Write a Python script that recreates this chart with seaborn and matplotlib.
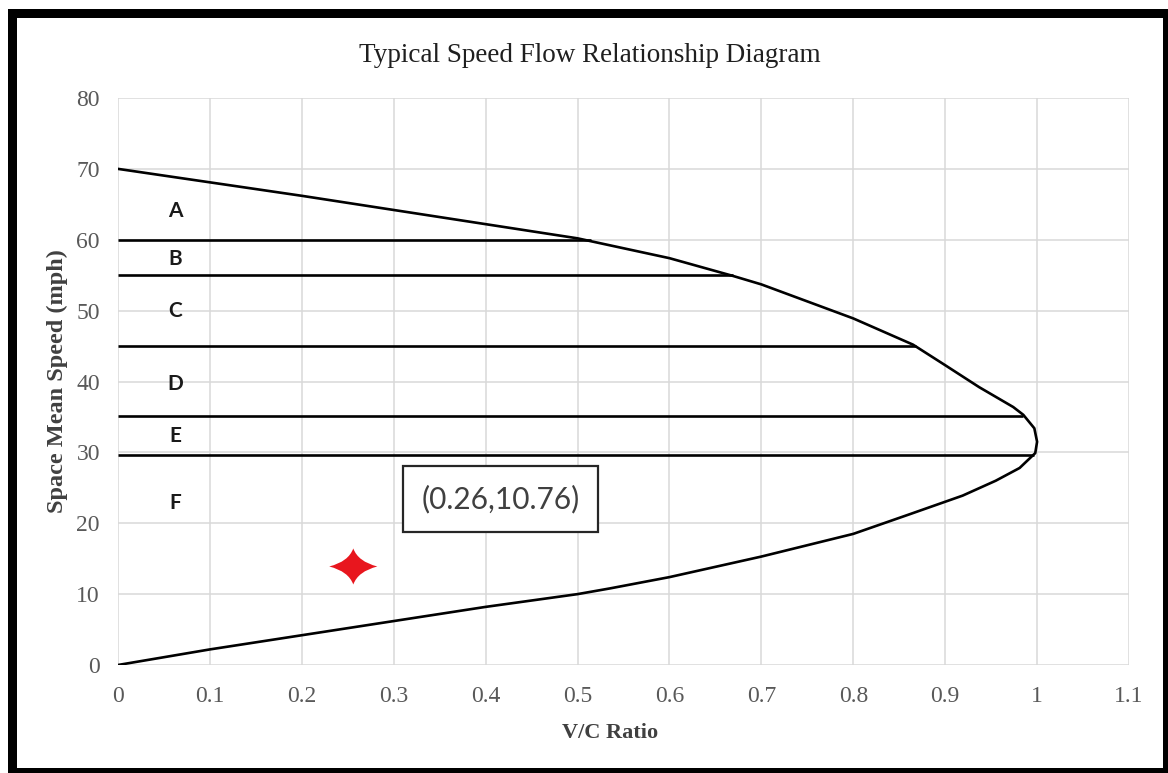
import matplotlib
matplotlib.use("Agg")
import matplotlib.pyplot as plt
from matplotlib.path import Path
from matplotlib.patches import Rectangle
import pandas as pd
import seaborn as sns

# Curva velocidade-fluxo: ramo superior e depois ramo inferior
vc_ratio = [0, 0.1, 0.2, 0.3, 0.4, 0.5, 0.6, 0.669, 0.7, 0.8, 0.865, 0.9, 0.937, 0.974, 0.985,
            0.997, 1.0, 0.998, 0.981, 0.955, 0.919, 0.862, 0.8, 0.7, 0.6, 0.535, 0.5, 0.4,
            0.3, 0.2, 0.1, 0]
speed_mph = [70, 68.1, 66.2, 64.2, 62.2, 60.2, 57.4, 54.9, 53.7, 48.9, 45.2, 42.3, 39.2, 36.4, 35.3,
             33.4, 31.5, 29.9, 27.8, 26.0, 23.9, 21.3, 18.5, 15.3, 12.4, 10.8, 10.0, 8.2,
             6.2, 4.2, 2.2, 0]

# Limites dos niveis de servico
los_speed = [60, 55, 45, 35.2, 29.6]
los_vc_end = [0.515, 0.669, 0.868, 0.985, 0.997]

los_letters = ["A", "B", "C", "D", "E", "F"]
los_letter_speed = [64.0, 57.3, 50.0, 39.7, 32.3, 22.8]
los_letter_vc = 0.062

# Ponto destacado
point_vc = [0.256]
point_speed = [13.9]
point_label = "(0.26,10.76)"
label_vc = 0.4165
label_speed = 23.4

x_ticks = [0, 0.1, 0.2, 0.3, 0.4, 0.5, 0.6, 0.7, 0.8, 0.9, 1.0, 1.1]
x_tick_labels = ["0", "0.1", "0.2", "0.3", "0.4", "0.5", "0.6", "0.7", "0.8", "0.9", "1", "1.1"]
y_ticks = [0, 10, 20, 30, 40, 50, 60, 70, 80]

sns.set_style("whitegrid")
plt.rcParams["font.family"] = ["Liberation Serif", "DejaVu Serif"]

fig = plt.figure(figsize=(11.68, 7.73), dpi=100)
fig.patch.set_facecolor("white")
ax = fig.add_axes([118 / 1168, 1 - 665 / 773, 1011 / 1168, 567 / 773])

curva = pd.DataFrame({"V/C": vc_ratio, "Speed": speed_mph})
sns.lineplot(data=curva, x="V/C", y="Speed", sort=False, estimator=None,
             color="black", lw=1.9, ax=ax, solid_joinstyle="round")

ax.hlines(los_speed, 0, los_vc_end, colors="black", lw=1.9)

for letra, s in zip(los_letters, los_letter_speed):
    ax.text(los_letter_vc, s, letra, ha="center", va="center", fontsize=15,
            fontweight="bold", family=["Lato", "DejaVu Sans"], color="#1a1a1a")

# estrela de quatro pontas
c = 0.2
h = 0.75
star = Path(
    [(1, 0), (c, c), (0, h), (-c, c), (-1, 0), (-c, -c), (0, -h), (c, -c), (1, 0), (0, 0)],
    [Path.MOVETO, Path.CURVE3, Path.CURVE3, Path.CURVE3, Path.CURVE3,
     Path.CURVE3, Path.CURVE3, Path.CURVE3, Path.CURVE3, Path.CLOSEPOLY],
)
sns.scatterplot(x=point_vc, y=point_speed, marker=star, s=1200, color="#e8161e",
                edgecolor="none", ax=ax, zorder=5)

ax.text(label_vc, label_speed, point_label, ha="center", va="center", fontsize=21.5,
        family=["Lato", "DejaVu Sans"], color="#404040",
        bbox=dict(boxstyle="square,pad=0.62", fc="white", ec="#262626", lw=1.6))

ax.set_xlim(0, 1.1)
ax.set_ylim(0, 80)
ax.set_xticks(x_ticks)
ax.set_xticklabels(x_tick_labels)
ax.set_yticks(y_ticks)
ax.grid(True, color="#d9d9d9", lw=1.1)
for sp in ax.spines.values():
    sp.set_visible(False)
ax.tick_params(axis="both", length=0, labelsize=17, labelcolor="#595959")
ax.tick_params(axis="x", pad=15)
ax.tick_params(axis="y", pad=13)

ax.set_xlabel("V/C Ratio", fontsize=16, fontweight="bold", color="#404040", va="center")
ax.xaxis.set_label_coords(0.487, -0.12)
ax.set_ylabel("Space Mean Speed (mph)", fontsize=17.5, fontweight="bold", color="#404040",
              va="center")
ax.yaxis.set_label_coords(-0.060, 0.5)

fig.text(590 / 1168, 1 - 55 / 773, "Typical Speed Flow Relationship Diagram",
         ha="center", va="center", fontsize=19.5, color="#1f1f1f")

# moldura preta
def moldura(x0, y0, x1, y1):
    fig.add_artist(Rectangle((x0 / 1168, 1 - y1 / 773), (x1 - x0) / 1168, (y1 - y0) / 773,
                             transform=fig.transFigure, color="black", lw=0))

moldura(8, 9, 1168, 18)
moldura(8, 9, 17, 773)
moldura(1163, 9, 1168, 773)
moldura(8, 768, 1168, 773)

fig.savefig("out.png", dpi=100, facecolor="white")
